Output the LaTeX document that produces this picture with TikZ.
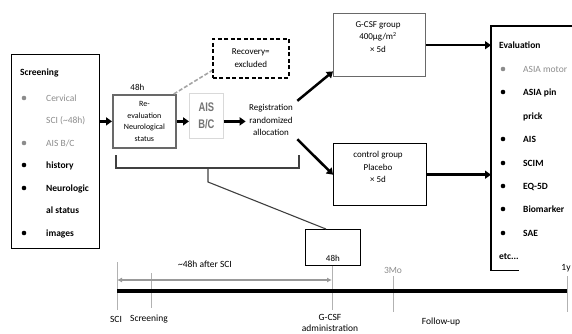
\documentclass[tikz,border=0pt]{standalone}
\usepackage{fontspec}
\setmainfont{Carlito}
\newfontfamily\narrowsans[FakeStretch=0.75]{Liberation Sans}
\usetikzlibrary{arrows.meta, positioning, calc}
\definecolor{softgray}{RGB}{140,140,140}
\definecolor{framegray}{RGB}{105,105,105}

\begin{document}
\begin{tikzpicture}[x=1pt, y=-1pt,
  every node/.style={font=\fontsize{9}{12.5}\selectfont},
  flow/.style={-{Triangle[length=6pt, width=8pt]}, line width=2.5pt},
  item/.style={anchor=base west, inner sep=0pt, font=\fontsize{9.5}{11}\selectfont\bfseries},
  grayitem/.style={item, text=softgray, font=\fontsize{9.5}{11}\selectfont},
  tick/.style={black!30, line width=0.8pt},
  tlabel/.style={font=\fontsize{9.5}{11}\selectfont}]
  \useasboundingbox (0,0) rectangle (572,334);

  % screening and first steps
  \node[draw, line width=1.3pt, minimum width=88, minimum height=194, anchor=north west] (screen) at (11,54) {};
  \node[draw=framegray, line width=1.8pt, minimum width=63, minimum height=53, anchor=north west,
        align=center, inner sep=1pt, font=\fontsize{8}{11.5}\selectfont] (reeval) at (112,94) {Re-\\evaluation\\Neurological\\status};
  \node[above=0pt of reeval, xshift=-7pt, font=\fontsize{9}{10}\selectfont] (reeval48) {48h};
  \node[draw=black!15, line width=0.8pt, minimum width=34, minimum height=45, anchor=north west, align=center,
        inner sep=0pt, text=black!55, font=\narrowsans\bfseries\fontsize{12.5}{17}\selectfont] (ais) at (189,93) {AIS\\B/C};
  \node[align=center] (reg) at (271,120) {Registration\\randomized\\allocation};
  \node[draw, line width=1.6pt, dash pattern=on 4pt off 2.5pt, minimum width=76, minimum height=39, anchor=north west,
        align=center, font=\fontsize{9}{12.5}\selectfont] (recov) at (212,38) {Recovery=\\excluded};

  % treatment groups
  \node[draw=framegray, line width=1.4pt, minimum width=92, minimum height=63, anchor=north west] (gcsf) at (333,13) {};
  \node[align=center] (gcsftxt) at (378,37) {G-CSF group\\400µg/m\textsuperscript{2}\\× 5d};
  \node[draw, line width=1.4pt, minimum width=93, minimum height=62, anchor=north west] (ctrl) at (333,143) {};
  \node[align=center] (ctrltxt) at (378,167) {control group\\Placebo\\× 5d};

  % evaluation (open to the right)
  \node[minimum width=100, minimum height=244, anchor=north west] (eval) at (491,26) {};
  \draw[line width=1.4pt] (eval.north east) -- (eval.north west) -- (eval.south west) -- ++(28,0);

  \node[draw, line width=0.8pt, minimum width=55, minimum height=36, anchor=north west] (h48) at (305,229) {};
  \node[above=1pt of h48.south, font=\fontsize{9}{10}\selectfont] (h48txt) {48h};

  % list texts
  \node[item] (scrhead) at (20,76) {Screening};
  \foreach \txt/\yy/\sty/\dotc [count=\i] in {
      Cervical/98/grayitem/softgray,
      {SCI (\textasciitilde48h)}/120/grayitem/white,
      {AIS B/C}/143/grayitem/softgray,
      history/165/item/black,
      Neurologic/188/item/black,
      {al status}/210/item/white,
      images/233/item/black}{
    \fill[\dotc] (24,\yy) circle (2.3);
    \node[\sty] (scr\i) at (46,\yy+3.2) {\txt};
  }
  \node[item] (evalhead) at (499,49) {Evaluation};
  \foreach \txt/\yy/\sty/\dotc [count=\i] in {
      {ASIA motor}/69/grayitem/softgray,
      {ASIA pin}/92/item/black,
      prick/116/item/white,
      AIS/139/item/black,
      SCIM/163/item/black,
      EQ-5D/186/item/black,
      Biomarker/209/item/black,
      SAE/233/item/black}{
    \fill[\dotc] (503,\yy) circle (2.3);
    \node[\sty] (ev\i) at (523,\yy+3.2) {\txt};
  }
  \node[item] (evetc) at (499,259) {etc...};

  % arrows
  \draw[flow] (reeval.west -| screen.east) -- (reeval.west);
  \draw[flow] (reeval.east) -- (reeval.east -| ais.west);
  \draw[flow] (ais.east |- reeval.east) -- (reeval.east -| reg.west);
  \draw[flow] ($(reg.north east)+(1,0)$) -- ($(gcsf.south west)+(0,-6)$);
  \draw[flow] ($(reg.south east)+(1,0)$) -- (ctrl.west);
  \draw[flow] (gcsf.east) -- (gcsf.east -| eval.west);
  \draw[flow] (ctrl.east) -- (ctrl.east -| eval.west);
  \draw[black!35, line width=1.6pt, dash pattern=on 4pt off 2pt] ($(reeval.north east)+(-3,0)$) -- ($(recov.south west)+(0,-8)$);

  % bracket to the 48h box
  \draw[line width=1.1pt, black!75] (116,155) |- (299,168) -- (299,155);
  \coordinate (brmid) at (208,168);
  \draw[line width=1.1pt, black!75] (brmid) -- ++(0,14) -- ($(h48.north)+(-7,0)$);

  % timeline
  \coordinate (tsci) at (117,291);
  \coordinate (tgcsf) at (332,291);
  \coordinate (t1y) at (567,291);
  \draw[tick] (117,262) -- (117,310);
  \draw[tick] (151,273) -- (151,308);
  \draw[tick] (h48.south -| tgcsf) -- (332,310);
  \draw[tick] (393,276) -- (393,312);
  \draw[tick] (567,276) -- (567,312);
  \draw[line width=4.8pt] (tsci) -- (t1y);
  \draw[{Latex[length=5pt, width=5pt]}-{Latex[length=5pt, width=5pt]}, black!40, line width=1.6pt] (117,280) -- (332,280);

  \node[tlabel] (lag) at (205,264) {\textasciitilde48h after SCI};
  \node[tlabel, text=softgray] (mo3) at (393,270) {3Mo};
  \node[tlabel] (yr1) at (566,268) {1y};
  \node[tlabel] (lsci) at (116,319) {SCI};
  \node[tlabel] (lscr) at (149,319) {Screening};
  \node[tlabel, align=center] (lgcsf) at (330,322.5) {G-CSF\\administration};
  \node[tlabel] (lfol) at (441,322) {Follow-up};
\end{tikzpicture}
\end{document}
